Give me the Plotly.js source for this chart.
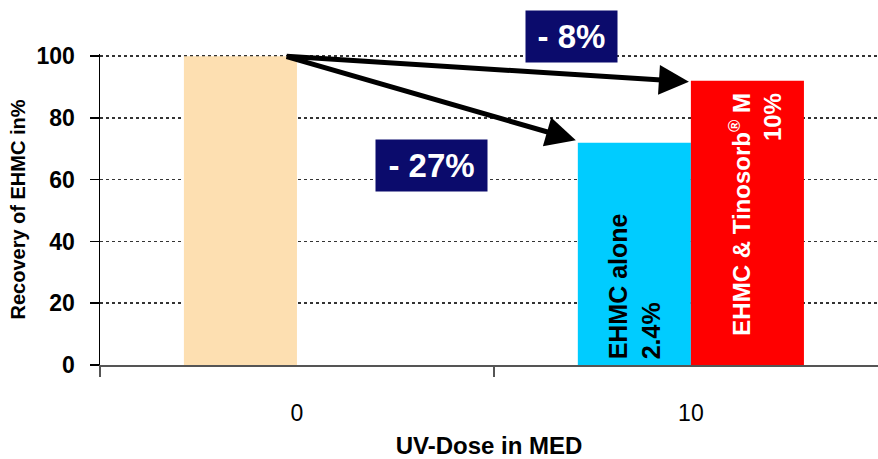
<!DOCTYPE html>
<html>
<head>
<meta charset="utf-8">
<script src="https://cdn.plot.ly/plotly-3.0.1.min.js"></script>
<style>html,body{margin:0;padding:0;background:#fff;}#chart{width:878px;height:459px;}</style>
</head>
<body>
<div id="chart"></div>
<script>
// ---- data ----
var doseLabels = ['0', '10'];          // UV-Dose in MED
var dosePos = [0, 1];                  // category positions
var aloneValues = [100, 72];           // control (0 MED) and EHMC alone (10 MED)
var aloneColors = ['#FDDFB1', '#00CCFF'];
var tinoValues = [null, 92];           // EHMC & Tinosorb M
var tinoColors = ['#FF0000', '#FF0000'];
var aloneLabel = 'EHMC alone<br>2.4%';
var tinoLabel = 'EHMC &amp; Tinosorb<sup>®</sup> M<br>10%';
var changeLabels = ['- 27%', '- 8%'];

var barW = 0.287;
var navy = '#0B0B6C';
var font = 'Liberation Sans, Arial, sans-serif';

var traces = [
  {type: 'bar', x: dosePos, y: aloneValues, width: barW, offset: -barW,
   marker: {color: aloneColors, line: {width: 0}}, hoverinfo: 'none', name: 'EHMC alone'},
  {type: 'bar', x: dosePos, y: tinoValues, width: barW, offset: 0,
   marker: {color: tinoColors, line: {width: 0}}, hoverinfo: 'none', name: 'EHMC & Tinosorb M'}
];

var tailX = dosePos[0] - 0.03, tailY = aloneValues[0];
var annotations = [
  // arrows
  {x: dosePos[1] - barW - 0.005, y: aloneValues[1] + 0.8, ax: tailX, ay: tailY, axref: 'x', ayref: 'y',
   xref: 'x', yref: 'y', text: '', showarrow: true, arrowhead: 2, arrowsize: 1.2, arrowwidth: 5, arrowcolor: '#000', standoff: 0},
  {x: dosePos[1] - 0.005, y: tinoValues[1] - 0.3, ax: tailX, ay: tailY, axref: 'x', ayref: 'y',
   xref: 'x', yref: 'y', text: '', showarrow: true, arrowhead: 2, arrowsize: 1.2, arrowwidth: 5, arrowcolor: '#000', standoff: 0},
  // change boxes
  {x: 0.341, y: 64.6, xref: 'x', yref: 'y', xanchor: 'center', yanchor: 'middle',
   text: '<b>' + changeLabels[0] + '</b>', showarrow: false,
   bgcolor: navy, width: 97, height: 37, borderpad: 7,
   font: {family: font, size: 33, color: '#fff'}},
  {x: 0.698, y: 1.057, xref: 'x', yref: 'paper', xanchor: 'center', yanchor: 'middle',
   text: '<b>' + changeLabels[1] + '</b>', showarrow: false,
   bgcolor: navy, width: 77, height: 37, borderpad: 7,
   font: {family: font, size: 33, color: '#fff'}},
  // bar texts
  {x: dosePos[1] - barW / 2, y: 0, xref: 'x', yref: 'y', yanchor: 'bottom', yshift: 4, textangle: -90,
   text: '<b>' + aloneLabel + '</b>', align: 'left', showarrow: false,
   font: {family: font, size: 25, color: '#000'}},
  {x: dosePos[1] + barW / 2 + 0.02, y: tinoValues[1], xref: 'x', yref: 'y', yanchor: 'top', yshift: -10, textangle: -90,
   text: '<b>' + tinoLabel + '</b>', align: 'right', showarrow: false,
   font: {family: font, size: 24, color: '#fff'}}
];

var layout = {
  width: 878, height: 459,
  margin: {l: 100, r: 0, t: 54, b: 94},
  paper_bgcolor: '#fff', plot_bgcolor: '#fff',
  showlegend: false,
  barmode: 'overlay',
  font: {family: font, color: '#000'},
  xaxis: {
    range: [-0.5, 1.475], tickvals: dosePos, ticktext: doseLabels,
    ticks: '', showgrid: false, zeroline: false,
    showline: true, linecolor: '#555', linewidth: 2,
    tickfont: {family: font, size: 23, color: '#000'},
    ticklabelstandoff: 26,
    minor: {tickvals: [-0.5, 0.5, 1.5], ticks: 'outside', ticklen: 10, tickcolor: '#555', tickwidth: 1.5, showgrid: false},
    title: {text: '<b>UV-Dose in MED</b>', font: {family: font, size: 24, color: '#000'}, standoff: 14}
  },
  yaxis: {
    range: [0, 100.7], tickvals: [0, 20, 40, 60, 80, 100],
    ticks: 'outside', ticklen: 9, tickcolor: '#000', tickwidth: 1.5,
    showline: true, linecolor: '#000', linewidth: 1.5,
    showgrid: true, gridcolor: '#333', griddash: 'dot', gridwidth: 1.5,
    zeroline: false,
    tickfont: {family: font, size: 23, color: '#000', weight: 'bold'},
    ticklabelstandoff: 10,
    title: {text: '<b>Recovery of EHMC in%</b>', font: {family: font, size: 20, color: '#000'}, standoff: 5}
  },
  annotations: annotations
};

Plotly.newPlot('chart', traces, layout, {staticPlot: true, displayModeBar: false});
</script>
</body>
</html>
